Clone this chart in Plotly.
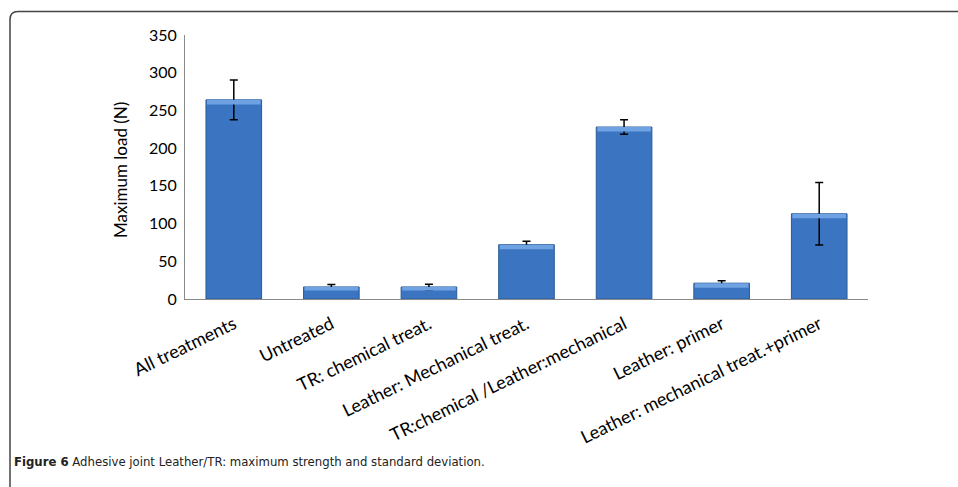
import plotly.graph_objects as go

categories = ["All treatments", "Untreated", "TR: chemical treat.", "Leather: Mechanical treat.",
              "TR:chemical /Leather:mechanical", "Leather: primer", "Leather: mechanical treat.+primer"]
max_load = [264, 16, 16, 72, 228, 21, 113]
std_dev = [26.5, 3.2, 3.7, 4.4, 9.7, 3.1, 41.4]
y_ticks = [0, 50, 100, 150, 200, 250, 300, 350]

W, H = 958, 487
L, R, T, B = 185, 868, 35, 299

fig = go.Figure()
fig.add_trace(go.Bar(
    x=categories, y=max_load,
    marker=dict(color="#3b74c0", line=dict(color="#2b5a96", width=1)),
    error_y=dict(type="data", array=std_dev, visible=True, color="black", thickness=1.5, width=4),
    width=0.57, hoverinfo="x+y",
))
# light bevel at top of each bar
bevel = [min(6, v * 0.3) for v in max_load]
fig.add_trace(go.Bar(
    x=categories, y=bevel, base=[v - b for v, b in zip(max_load, bevel)],
    marker=dict(color="#6ea2e2", line=dict(width=0)),
    width=0.55, hoverinfo="skip",
))

def px(x):
    return (x - L) / (R - L)

def py(y):
    return (B - y) / (B - T)

# rounded border frame
x0, y0 = px(10), py(11.5)
x1, y1 = px(975), py(510)
rx, ry = 8 / (R - L), 8 / (B - T)
path = (f"M {x0},{y1} L {x0},{y0 - ry} Q {x0},{y0} {x0 + rx},{y0} L {x1},{y0}")

fig.update_layout(
    width=W, height=H,
    margin=dict(l=L, r=W - R, t=T, b=H - B),
    paper_bgcolor="white", plot_bgcolor="white",
    showlegend=False, barmode="overlay",
    font=dict(family="Lato, Open Sans, sans-serif", size=16, color="black"),
    xaxis=dict(showline=True, linecolor="#8a8a8a", linewidth=1, ticks="outside", ticklen=7,
               tickcolor="rgba(0,0,0,0)", tickangle=-26,
               tickfont=dict(size=18), showgrid=False, zeroline=False),
    yaxis=dict(range=[0, 350], tickvals=y_ticks, showline=True, linecolor="#8a8a8a", linewidth=1,
               ticks="outside", ticklen=4, tickcolor="rgba(0,0,0,0)",
               showgrid=False, zeroline=False, tickfont=dict(size=16)),
    shapes=[dict(type="path", path=path, xref="paper", yref="paper",
                 line=dict(color="#444444", width=1.5))],
    annotations=[
        dict(text="Maximum load (N)", xref="paper", yref="paper", x=px(120), y=py(170),
             xanchor="center", yanchor="middle", textangle=-90, showarrow=False,
             font=dict(size=17)),
        dict(text="<b>Figure 6</b> Adhesive joint Leather/TR: maximum strength and standard deviation.",
             xref="paper", yref="paper", x=px(12), y=py(461), xanchor="left", yanchor="middle",
             showarrow=False,
             font=dict(family="DejaVu Sans Condensed, sans-serif", size=13, color="#222222")),
    ],
)

fig.write_html("out.html", config={"displayModeBar": False},
               post_script="document.body.style.margin='0px';")
